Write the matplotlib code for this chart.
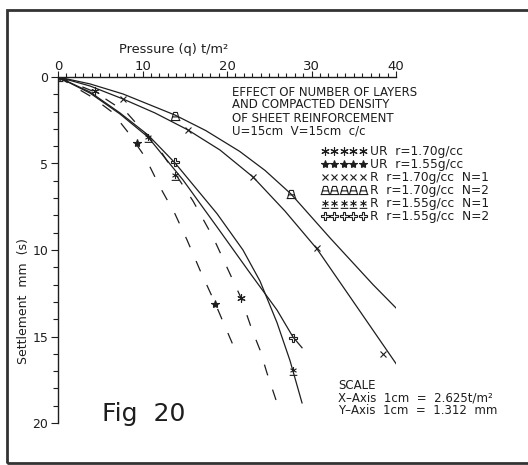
import matplotlib.pyplot as plt
from matplotlib.path import Path
from matplotlib.patches import Rectangle

# traced curves: pressure q (t/m2) and settlement s (mm)
ur170_q = [0, 4.38, 8.17, 12.07, 15.98, 18.34, 19.76, 21.66, 22.96, 23.91, 24.73, 25.80]
ur170_s = [0, 0.87, 2.08, 4.22, 7.17, 9.25, 10.75, 12.77, 14.62, 15.78, 17.11, 18.67]
ur155_q = [0, 4.02, 6.39, 8.17, 10.30, 12.07, 13.85, 15.27, 16.80, 18.58, 20.71]
ur155_s = [0, 1.16, 2.02, 3.12, 4.62, 6.36, 7.92, 9.42, 11.16, 13.06, 15.49]
r170n1_q = [0, 3.79, 7.69, 11.48, 15.38, 19.17, 23.08, 26.86, 30.65, 35.38, 40.12]
r170n1_s = [0, 0.52, 1.27, 2.08, 3.06, 4.22, 5.78, 7.75, 9.94, 13.29, 16.65]
r170n2_q = [0, 3.79, 7.69, 13.85, 17.5, 21.5, 24.5, 27.57, 32.19, 37.28, 40.0]
r170n2_s = [0, 0.40, 0.98, 2.20, 3.1, 4.3, 5.4, 6.76, 9.3, 12.0, 13.35]
r155a_q = [0, 3.79, 7.34, 10.65, 13.85, 18.82, 21.89, 23.91, 25.92, 27.46, 28.88]
r155a_s = [0, 0.87, 2.08, 3.35, 4.97, 7.9, 10.0, 11.8, 14.2, 16.4, 18.84]
r155b_q = [0, 3.79, 7.34, 10.65, 14.79, 18.82, 22.72, 25.92, 27.81, 28.88]
r155b_s = [0, 0.93, 2.14, 3.47, 5.95, 8.67, 11.33, 13.47, 15.03, 15.65]

# plotted test points
ur170_pq, ur170_ps = [0, 4.4, 21.7], [0, 0.8, 12.8]
ur155_pq, ur155_ps = [0, 9.3, 18.6], [0, 3.8, 13.1]
r170n1_pq, r170n1_ps = [7.7, 15.4, 23.1, 30.6, 38.5], [1.27, 3.06, 5.8, 9.9, 16.0]
r170n2_pq, r170n2_ps = [0, 13.8, 27.6], [0, 2.25, 6.76]
r155n1_pq, r155n1_ps = [10.65, 13.85, 27.8], [3.47, 5.66, 16.94]
r155n2_pq, r155n2_ps = [13.85, 27.8], [4.91, 15.09]

labels = ['UR  r=1.70g/cc', 'UR  r=1.55g/cc', 'R  r=1.70g/cc  N=1',
          'R  r=1.70g/cc  N=2', 'R  r=1.55g/cc  N=1', 'R  r=1.55g/cc  N=2']

title_lines = ['EFFECT OF NUMBER OF LAYERS', 'AND COMPACTED DENSITY',
               'OF SHEET REINFORCEMENT', 'U=15cm  V=15cm  c/c']
scale_lines = ['SCALE', 'X\u2013Axis  1cm  =  2.625t/m\u00b2', 'Y\u2013Axis  1cm  =  1.312  mm']

x_major = [0, 10, 20, 30, 40]
y_major = [0, 5, 10, 15, 20]

plt.rcParams['font.family'] = ['DejaVu Sans']
INK = '#1e1e1e'
W, H = 528, 465


def fx(px):
    return px / W


def fy(py):
    return 1 - py / H


# custom marker shapes
M, L = Path.MOVETO, Path.LINETO
asterisk_ul = Path([(0, 1), (0, -1), (-0.87, 0.5), (0.87, -0.5), (-0.87, -0.5), (0.87, 0.5),
                    (-1.1, -1.4), (1.1, -1.4)], [M, L, M, L, M, L, M, L])
a_mark = Path([(-1, -1), (-0.45, 1), (0.45, 1), (1, -1), (-0.75, -0.1), (0.75, -0.1),
               (-1.2, -1), (1.2, -1)], [M, L, L, L, M, L, M, L])

fig = plt.figure(figsize=(W / 100, H / 100), dpi=100)
ax = fig.add_axes([fx(58), fy(423), fx(396) - fx(58), fy(77) - fy(423)])

lw = 0.9
ax.plot(ur170_q, ur170_s, color=INK, lw=lw, dashes=(9, 12))
ax.plot(ur155_q, ur155_s, color=INK, lw=lw, dashes=(9, 12))
for q, s in [(r170n1_q, r170n1_s), (r170n2_q, r170n2_s), (r155a_q, r155a_s), (r155b_q, r155b_s)]:
    ax.plot(q, s, color=INK, lw=lw)

mk = dict(ls='none', color=INK, mec=INK, mfc='none', mew=0.8)
ax.plot(ur170_pq, ur170_ps, marker=(6, 2, 0), ms=6, label=labels[0], **mk)
ax.plot(ur155_pq, ur155_ps, marker='*', ms=6, label=labels[1],
        **{**mk, 'mfc': INK})
ax.plot(r170n1_pq, r170n1_ps, marker='x', ms=5, label=labels[2], **mk)
ax.plot(r170n2_pq, r170n2_ps, marker=a_mark, ms=7, label=labels[3], **mk)
ax.plot(r155n1_pq, r155n1_ps, marker=asterisk_ul, ms=7, label=labels[4], **mk)
ax.plot(r155n2_pq, r155n2_ps, marker='P', ms=6, label=labels[5], **mk)

ax.set_xlim(0, 40)
ax.set_ylim(20, 0)
ax.xaxis.tick_top()
ax.set_xticks(x_major)
ax.set_xticks(range(0, 41), minor=True)
ax.set_yticks(y_major)
ax.set_yticks(range(0, 21), minor=True)
for side in ['bottom', 'right']:
    ax.spines[side].set_visible(False)
for side in ['top', 'left']:
    ax.spines[side].set_color(INK)
    ax.spines[side].set_linewidth(1.0)
ax.tick_params(axis='x', which='major', direction='out', length=4, width=0.8,
               pad=-1, labelsize=9.5, colors=INK)
ax.tick_params(axis='x', which='minor', direction='out', length=3, width=0.8, colors=INK)
ax.tick_params(axis='y', which='major', direction='out', length=5, width=0.8,
               pad=2, labelsize=9, colors=INK)
ax.tick_params(axis='y', which='minor', direction='out', length=3.5, width=0.8, colors=INK)
ax.patch.set_visible(False)

fig.text(fx(174), fy(50), 'Pressure (q) t/m\u00b2', ha='center', va='center',
         fontsize=9.3, color=INK)
fig.text(fx(24), fy(301), 'Settlement  mm  (s)', rotation=90, ha='center', va='center',
         fontsize=9, color=INK)

for i, line in enumerate(title_lines):
    fig.text(fx(232), fy(92 + 13 * i), line, ha='left', va='center', fontsize=8.5, color=INK)
for i, line in enumerate(scale_lines):
    fig.text(fx(338), fy(385 + 12.5 * i), line, ha='left', va='center', fontsize=8.5, color=INK)
fig.text(fx(102), fy(421), 'Fig  20', ha='left', va='baseline', fontsize=18, color=INK)

leg = ax.legend(loc='upper left', bbox_to_anchor=(fx(321), fy(145)),
                bbox_transform=fig.transFigure, frameon=False, numpoints=5,
                handlelength=3.7, handletextpad=0.3, labelspacing=0.0,
                borderpad=0, borderaxespad=0, fontsize=8.8)
for t in leg.get_texts():
    t.set_color(INK)

fig.patches.append(Rectangle((fx(7), fy(463)), 1.1, fy(10) - fy(463), transform=fig.transFigure,
                             fill=False, edgecolor='#333333', lw=2))

fig.savefig('out.png', dpi=100)
